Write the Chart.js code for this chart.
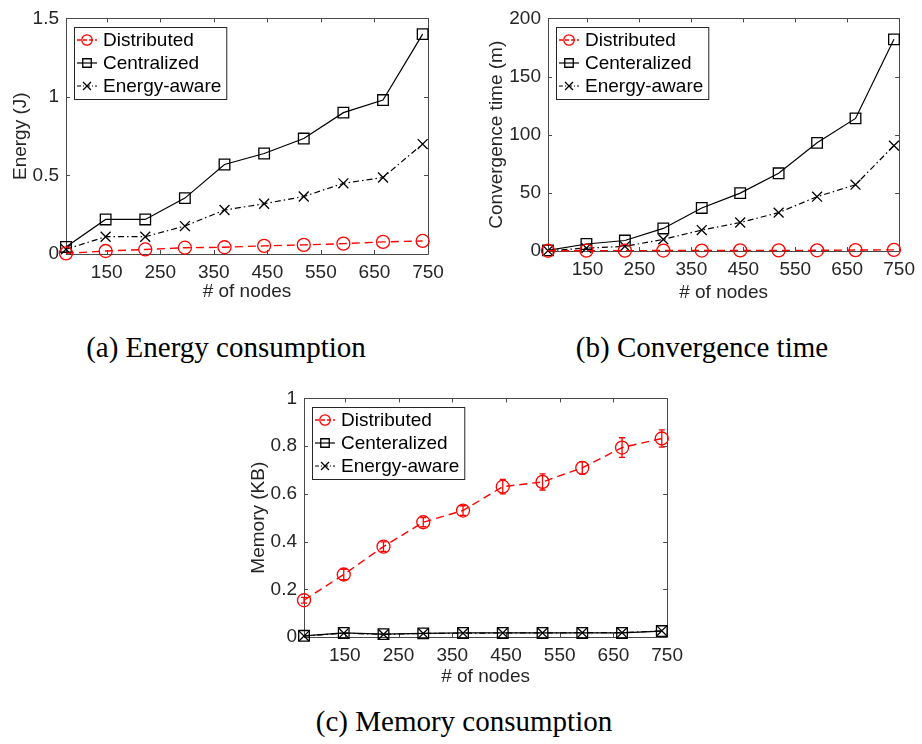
<!DOCTYPE html>
<html>
<head>
<meta charset="utf-8">
<title>Energy, convergence time and memory vs. number of nodes</title>
<script src="https://cdn.jsdelivr.net/npm/chart.js@4.4.1/dist/chart.umd.min.js"></script>
<style>
  body { margin: 0; background: #fff; width: 922px; height: 744px; position: relative; overflow: hidden; }
  canvas { position: absolute; }
  .caption {
    position: absolute; width: 400px; text-align: center; white-space: nowrap;
    font-family: "Liberation Serif", "Times New Roman", serif; font-size: 29px; line-height: 29px; color: #000;
  }
</style>
</head>
<body>
<canvas id="chartEnergy" width="461" height="310" style="left:0;top:0"></canvas>
<canvas id="chartTime" width="461" height="310" style="left:461px;top:0"></canvas>
<canvas id="chartMemory" width="460" height="320" style="left:230px;top:380px"></canvas>
<div class="caption" style="left:26px;top:333px">(a) Energy consumption</div>
<div class="caption" style="left:502px;top:333px">(b) Convergence time</div>
<div class="caption" style="left:264px;top:707px">(c) Memory consumption</div>
<script>
// number of nodes on the x axis
const nodes = [74, 148, 222, 296, 370, 444, 518, 592, 666, 740];
const xTicks = [150, 250, 350, 450, 550, 650, 750];

// (a) energy (J)
const energyDistributed = [0.004, 0.019, 0.029, 0.04, 0.043, 0.052, 0.058, 0.066, 0.077, 0.083];
const energyCentralized = [0.045, 0.22, 0.22, 0.356, 0.57, 0.64, 0.735, 0.9, 0.98, 1.40];
const energyAware = [0.03, 0.11, 0.11, 0.178, 0.28, 0.32, 0.366, 0.45, 0.487, 0.70];
const energyTicks = [0, 0.5, 1, 1.5];

// (b) convergence time (m)
const timeDistributed = [0.2, 0.3, 0.3, 0.4, 0.4, 0.5, 0.5, 0.6, 0.8, 1.0];
const timeCentralized = [0.5, 6, 9, 19.4, 37, 49.8, 66.8, 93, 114, 182];
const timeAware = [0.3, 2.5, 4, 10, 18, 24.5, 33, 46.7, 57, 90.6];
const timeTicks = [0, 50, 100, 150, 200];

// (c) memory (KB), distributed with error bars
const memDistributed = [0.154, 0.262, 0.379, 0.481, 0.53, 0.63, 0.65, 0.709, 0.794, 0.832];
const memDistributedErr = [0.012, 0.022, 0.02, 0.019, 0.02, 0.03, 0.034, 0.026, 0.041, 0.036];
const memCentralized = [0.005, 0.017, 0.012, 0.015, 0.017, 0.017, 0.017, 0.017, 0.017, 0.025];
const memAware = [0.004, 0.016, 0.011, 0.015, 0.016, 0.017, 0.017, 0.018, 0.018, 0.026];
const memTicks = [0, 0.2, 0.4, 0.6, 0.8, 1];

const FONT = '"Liberation Sans", Arial, Helvetica, sans-serif';
const AXIS_COLOR = '#262626';

function pts(ys) {
  return nodes.map((x, i) => ({ x: x, y: ys[i] }));
}

function distributed(label, ys, errors) {
  return {
    label: label, data: pts(ys), errors: errors,
    borderColor: '#ff0000', borderWidth: 1.4, borderDash: [8, 5],
    pointStyle: 'circle', pointRadius: 6.5, pointBorderWidth: 1.3,
    pointBorderColor: '#ff0000', pointBackgroundColor: 'rgba(0,0,0,0)', clip: false
  };
}
function centralized(label, ys) {
  return {
    label: label, data: pts(ys),
    borderColor: '#000', borderWidth: 1.2, borderDash: [],
    pointStyle: 'rect', pointRadius: 7.5, pointBorderWidth: 1.3,
    pointBorderColor: '#000', pointBackgroundColor: 'rgba(0,0,0,0)', clip: false
  };
}
function aware(label, ys) {
  return {
    label: label, data: pts(ys),
    borderColor: '#000', borderWidth: 1.2, borderDash: [6, 3, 1.5, 3],
    pointStyle: 'crossRot', pointRadius: 7, pointBorderWidth: 1.3,
    pointBorderColor: '#000', pointBackgroundColor: 'rgba(0,0,0,0)', clip: false
  };
}

// full box round the plot area with inward ticks on every side
const axesBox = {
  id: 'axesBox',
  beforeDatasetsDraw(chart) {
    const { ctx, chartArea: a, scales: { x, y } } = chart;
    const len = 4;
    ctx.save();
    ctx.strokeStyle = '#4a4a4a';
    ctx.lineWidth = 1;
    ctx.beginPath();
    ctx.rect(Math.round(a.left) + 0.5, Math.round(a.top) + 0.5,
      Math.round(a.right) - Math.round(a.left), Math.round(a.bottom) - Math.round(a.top));
    x.ticks.forEach(t => {
      const px = Math.round(x.getPixelForValue(t.value)) + 0.5;
      ctx.moveTo(px, a.bottom); ctx.lineTo(px, a.bottom - len);
      ctx.moveTo(px, a.top); ctx.lineTo(px, a.top + len);
    });
    y.ticks.forEach(t => {
      const py = Math.round(y.getPixelForValue(t.value)) + 0.5;
      ctx.moveTo(a.left, py); ctx.lineTo(a.left + len, py);
      ctx.moveTo(a.right, py); ctx.lineTo(a.right - len, py);
    });
    ctx.stroke();
    ctx.restore();
  }
};

// vertical error bars with caps
const errorBars = {
  id: 'errorBars',
  afterDatasetsDraw(chart) {
    const { ctx, scales: { x, y } } = chart;
    ctx.save();
    chart.data.datasets.forEach(d => {
      if (!d.errors) return;
      ctx.strokeStyle = d.borderColor;
      ctx.lineWidth = 1.3;
      ctx.setLineDash([]);
      d.data.forEach((p, i) => {
        const px = x.getPixelForValue(p.x);
        const top = y.getPixelForValue(p.y + d.errors[i]);
        const bot = y.getPixelForValue(p.y - d.errors[i]);
        ctx.beginPath();
        ctx.moveTo(px, top); ctx.lineTo(px, bot);
        ctx.moveTo(px - 3, top); ctx.lineTo(px + 3, top);
        ctx.moveTo(px - 3, bot); ctx.lineTo(px + 3, bot);
        ctx.stroke();
      });
    });
    ctx.restore();
  }
};

function marker(ctx, style, r, cx, cy) {
  ctx.beginPath();
  if (style === 'circle') {
    ctx.arc(cx, cy, r, 0, Math.PI * 2);
  } else if (style === 'rect') {
    const s = r * Math.SQRT1_2;
    ctx.rect(cx - s, cy - s, 2 * s, 2 * s);
  } else {
    const s = r * Math.SQRT1_2;
    ctx.moveTo(cx - s, cy - s); ctx.lineTo(cx + s, cy + s);
    ctx.moveTo(cx - s, cy + s); ctx.lineTo(cx + s, cy - s);
  }
  ctx.stroke();
}

// boxed legend in the upper left corner of the plot
const boxLegend = {
  id: 'boxLegend',
  afterDraw(chart) {
    const { ctx, chartArea: a } = chart;
    const sets = chart.data.datasets;
    ctx.save();
    ctx.font = '19px ' + FONT;
    const textW = Math.max(...sets.map(d => ctx.measureText(d.label).width));
    const x0 = Math.round(a.left) + 8, y0 = Math.round(a.top) + 9;
    const w = 29 + textW + 5, h = 72;
    ctx.fillStyle = '#fff';
    ctx.fillRect(x0, y0, w, h);
    ctx.strokeStyle = '#262626';
    ctx.lineWidth = 1;
    ctx.strokeRect(x0 + 0.5, y0 + 0.5, w, h);
    sets.forEach((d, i) => {
      const cy = y0 + 13 + i * 23;
      ctx.strokeStyle = d.borderColor;
      ctx.lineWidth = d.borderWidth;
      ctx.setLineDash(d.borderDash.length ? [4, 2, 1, 2].slice(0, d.borderDash.length) : []);
      ctx.beginPath();
      ctx.moveTo(x0 + 3, cy); ctx.lineTo(x0 + 23, cy);
      ctx.stroke();
      ctx.setLineDash([]);
      ctx.lineWidth = d.pointBorderWidth;
      marker(ctx, d.pointStyle, d.pointRadius * 0.8, x0 + 13, cy);
      ctx.fillStyle = '#000';
      ctx.textBaseline = 'middle';
      ctx.fillText(d.label, x0 + 29, cy + 1);
    });
    ctx.restore();
  }
};

function buildChart(id, cfg) {
  const canvas = document.getElementById(id);
  const W = canvas.width, H = canvas.height, area = cfg.area;
  const tickFont = { family: FONT, size: 19 };
  return new Chart(canvas, {
    type: 'line',
    data: { datasets: cfg.datasets },
    options: {
      responsive: false,
      animation: false,
      events: [],
      layout: { padding: { left: 0, top: area.top, right: W - area.right, bottom: 0 } },
      plugins: { legend: { display: false }, tooltip: { enabled: false } },
      scales: {
        x: {
          type: 'linear', min: 74, max: 750,
          afterBuildTicks: s => { s.ticks = xTicks.map(v => ({ value: v })); },
          afterFit: s => { s.height = H - area.bottom; },
          grid: { display: false, drawTicks: false },
          border: { display: false },
          ticks: { padding: 7, font: tickFont, color: AXIS_COLOR, autoSkip: false, maxRotation: 0,
            callback: v => String(v) },
          title: { display: true, text: '# of nodes', font: tickFont, color: AXIS_COLOR,
            padding: { top: 0, bottom: cfg.xTitlePad } }
        },
        y: {
          type: 'linear', min: cfg.yTicks[0], max: cfg.yTicks[cfg.yTicks.length - 1],
          afterBuildTicks: s => { s.ticks = cfg.yTicks.map(v => ({ value: v })); },
          afterFit: s => { s.width = area.left; },
          grid: { display: false, drawTicks: false },
          border: { display: false },
          ticks: { padding: 7, font: tickFont, color: AXIS_COLOR, autoSkip: false,
            callback: v => String(v) },
          title: { display: true, text: cfg.yTitle, font: tickFont, color: AXIS_COLOR,
            padding: { top: cfg.yTitlePad, bottom: 0 } }
        }
      }
    },
    plugins: [axesBox, errorBars, boxLegend]
  });
}

buildChart('chartEnergy', {
  area: { left: 66, top: 12, right: 428, bottom: 254 },
  yTicks: energyTicks, yTitle: 'Energy (J)', yTitlePad: 9, xTitlePad: 7,
  datasets: [
    distributed('Distributed', energyDistributed),
    centralized('Centralized', energyCentralized),
    aware('Energy-aware', energyAware)
  ]
});

buildChart('chartTime', {
  area: { left: 87, top: 14, right: 445, bottom: 251 },
  yTicks: timeTicks, yTitle: 'Convergence time (m)', yTitlePad: 24, xTitlePad: 6,
  datasets: [
    distributed('Distributed', timeDistributed),
    centralized('Centeralized', timeCentralized),
    aware('Energy-aware', timeAware)
  ]
});

buildChart('chartMemory', {
  area: { left: 74, top: 15, right: 438, bottom: 257 },
  yTicks: memTicks, yTitle: 'Memory (KB)', yTitlePad: 17, xTitlePad: 12,
  datasets: [
    distributed('Distributed', memDistributed, memDistributedErr),
    centralized('Centeralized', memCentralized),
    aware('Energy-aware', memAware)
  ]
});
</script>
</body>
</html>
